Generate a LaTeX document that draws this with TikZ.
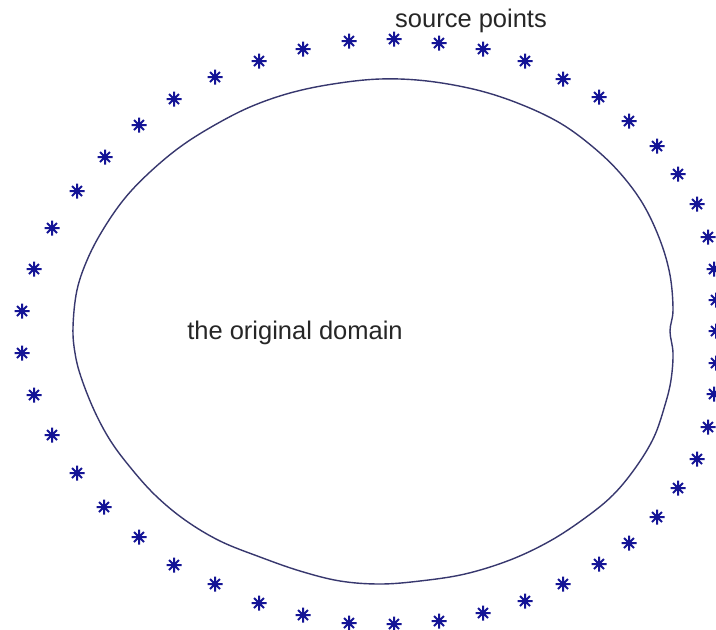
\documentclass[tikz,border=0pt]{standalone}
\usepackage{fontspec}
\setmainfont{Liberation Sans}
\usepackage{tikz}
\definecolor{domaincol}{RGB}{55,55,110}
\definecolor{srccol}{RGB}{20,20,150}
\tikzset{
  srcstar/.pic={
    \draw[srccol, line width=2pt] (-7.5,0) -- (7.5,0) (0,-7.5) -- (0,7.5)
      (-5,-5) -- (5,5) (-5,5) -- (5,-5);
    \fill[srccol] (0,0) circle (3);
  },
  plotlabel/.style={anchor=base, text=black!85, font=\fontsize{25.5}{30}\selectfont}
}

\begin{document}
\begin{tikzpicture}[x=1pt, y=-1pt]
\path[fill=white, use as bounding box] (0,0) rectangle (716,630);
% boundary of the domain
\draw[domaincol, line width=1.4pt] plot[smooth cycle, tension=0.6] coordinates {
  (73,327) (77,290) (88,258) (104,228) (125,198) (150,172) (180,147) (213,126)
  (250,107) (290,93) (333,84) (380,79)
  (427,81) (477,90) (520,104) (560,123) (593,147) (620,173) (643,204)
  (660,240) (670,275) (673,310) (670,331) (673,353)
  (671,380) (665,405) (654,437) (636,467) (613,495) (585,518) (550,541)
  (510,560) (465,574) (420,581) (380,584)
  (340,581) (300,571) (260,557) (220,541) (185,520) (155,495) (130,467)
  (110,440) (94,410) (81,377) (75,353)};
% source points
\foreach \px/\py in {22/311, 34/269, 52/228, 77/191, 105/157, 139/125, 174/99,
  215/77, 259/61, 303/49, 349/41, 394/39, 439/43, 483/49, 525/61, 563/79,
  599/97, 629/121, 657/146, 678/174, 697/204, 708/237, 714/269, 716/300,
  716/331, 716/363, 714/394, 708/427, 697/459, 678/488, 657/517, 629/543,
  599/564, 563/584, 525/601, 483/613, 439/621, 394/624, 349/623, 303/615,
  259/603, 215/584, 174/565, 139/537, 104/507, 77/473, 52/435, 34/395, 22/353}
  \pic at (\px,\py) {srcstar};
\node[plotlabel] (srclabel) at (471,27) {source points};
\node[plotlabel] (domlabel) at (295,339) {the original domain};
\end{tikzpicture}
\end{document}
